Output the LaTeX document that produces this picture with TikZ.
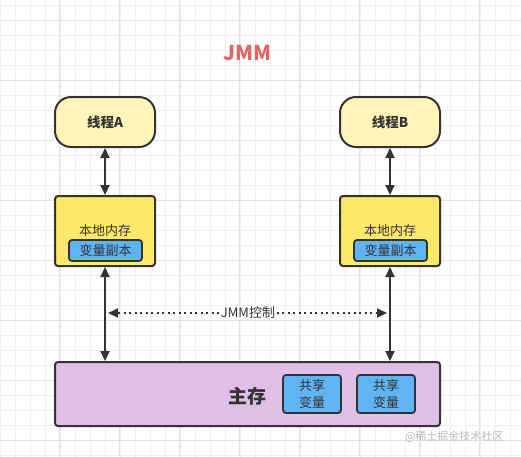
\documentclass[tikz,border=0pt]{standalone}
\usepackage{fontspec}
\setmainfont{Noto Sans CJK SC}
\usetikzlibrary{arrows.meta}
\definecolor{edge}{HTML}{333333}
\definecolor{thr}{HTML}{FFF5B8}
\definecolor{loc}{HTML}{FFE868}
\definecolor{blu}{HTML}{60B4F2}
\definecolor{mainc}{HTML}{E0BFE6}
\definecolor{jmmred}{HTML}{E06666}
\definecolor{gridminor}{HTML}{EFEFEF}
\definecolor{gridmajor}{HTML}{E2E2E2}
\tikzset{
  mytip/.tip={Triangle[length=10pt,width=9pt]},
  box/.style={draw=edge, line width=2pt, text=edge, align=center, inner sep=0pt},
  threadbox/.style={box, fill=thr, rounded corners=16pt, minimum width=100pt, minimum height=50pt, font=\fontsize{13.5}{16}\selectfont\bfseries},
  localbox/.style={box, fill=loc, rounded corners=3pt, minimum width=100pt, minimum height=70pt},
  varbox/.style={box, fill=blu, rounded corners=3pt, line width=1.8pt, font=\fontsize{13}{15}\selectfont},
  conn/.style={draw=edge, line width=2pt, {mytip}-{mytip}},
  dotconn/.style={draw=edge, line width=2pt, dash pattern=on 2pt off 3.5pt, -{mytip}},
}
\begin{document}
\begin{tikzpicture}[x=1pt,y=-1pt]
\useasboundingbox (0,0) rectangle (521,456);
\fill[white] (0,0) rectangle (521,456);
\draw[gridminor, line width=0.6pt, step=15pt, yshift=-5pt] (0,-5) grid (521,456);
\foreach \x in {59,119,...,521} \draw[gridmajor, line width=0.8pt] (\x,0) -- (\x,456);
\foreach \y in {20,80,...,456} \draw[gridmajor, line width=0.8pt] (0,\y) -- (521,\y);

\node[font=\fontsize{20.5}{24}\selectfont\bfseries, text=jmmred] (title) at (247,53) {JMM};

\node[threadbox] (ta) at (105,122) {线程A};
\node[threadbox] (tb) at (390,122) {线程B};

\node[localbox] (la) at (105,231) {};
\node[localbox] (lb) at (390,231) {};
\node[text=edge, font=\fontsize{13}{15}\selectfont] (lat) at (105,230.5) {本地内存};
\node[text=edge, font=\fontsize{13}{15}\selectfont] (lbt) at (390,230.5) {本地内存};
\node[varbox, minimum width=73pt, minimum height=21pt] (va) at (105.5,250.5) {变量副本};
\node[varbox, minimum width=73pt, minimum height=21pt] (vb) at (390.5,250.5) {变量副本};

\node[box, fill=mainc, rounded corners=3pt, minimum width=385pt, minimum height=64pt] (mem) at (247.5,394) {};
\node[text=edge, font=\fontsize{19}{22}\selectfont\bfseries] (memt) at (247,396) {主存};
\node[varbox, minimum width=58pt, minimum height=38pt, font=\fontsize{13}{17}\selectfont] (s1) at (312,394) {共享\\变量};
\node[varbox, minimum width=58pt, minimum height=38pt, font=\fontsize{13}{17}\selectfont] (s2) at (386,394) {共享\\变量};

\draw[conn] (ta.south) -- (la.north);
\draw[conn] (tb.south) -- (lb.north);
\draw[conn] (la.south) -- (la.south |- mem.north);
\draw[conn] (lb.south) -- (lb.south |- mem.north);

\coordinate (jl) at (108,313);
\coordinate (jr) at (387,313);
\node[fill=white, inner sep=1.5pt, text=edge, font=\fontsize{13}{15}\selectfont] (jmm) at (248,313) {JMM控制};
\draw[dotconn] (jmm.west) -- (jl);
\draw[dotconn] (jmm.east) -- (jr);

\node[anchor=east, text=gray!55, font=\fontsize{11}{13}\selectfont] (wm) at (507,437) {@稀土掘金技术社区};
\end{tikzpicture}
\end{document}
